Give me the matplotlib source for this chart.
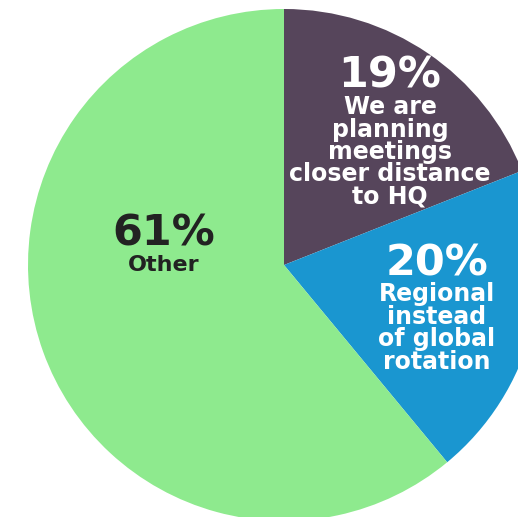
import matplotlib.pyplot as plt

labels = ["We are\nplanning\nmeetings\ncloser distance\nto HQ", "Regional\ninstead\nof global\nrotation", "Other"]
values = [19, 20, 61]
colors = ["#56455B", "#1A96D0", "#8EEA8E"]
text_colors = ["white", "white", "#222222"]

# pixel layout: pie centre (284, 265), radius 256 px
W, H = 518, 517
CX, CY, R = 284, 265, 256


def px(x, y):
    return (x - CX) / R, (CY - y) / R


fig = plt.figure(figsize=(W / 100, H / 100), dpi=100)
ax = fig.add_axes([0, 0, 1, 1])
ax.pie(values, colors=colors, startangle=90, counterclock=False, radius=1,
       wedgeprops=dict(linewidth=0))
ax.set_xlim(-CX / R, (W - CX) / R)
ax.set_ylim(-(H - CY) / R, CY / R)
ax.set_aspect("auto")
ax.axis("off")

# percent and label positions (pixels)
pct_pos = [(390, 75), (437, 263), (164, 233)]
lab_pos = [(390, 152), (437, 328), (164, 265)]
lab_size = [17, 17, 16]

for i in range(len(values)):
    x, y = px(*pct_pos[i])
    ax.text(x, y, f"{values[i]}%", ha="center", va="center", fontsize=31,
            fontweight="bold", color=text_colors[i], family="DejaVu Sans")
    x, y = px(*lab_pos[i])
    ax.text(x, y, labels[i], ha="center", va="center", fontsize=lab_size[i],
            fontweight="bold", color=text_colors[i], family="DejaVu Sans",
            linespacing=0.92)

fig.savefig("out.png", dpi=100)
